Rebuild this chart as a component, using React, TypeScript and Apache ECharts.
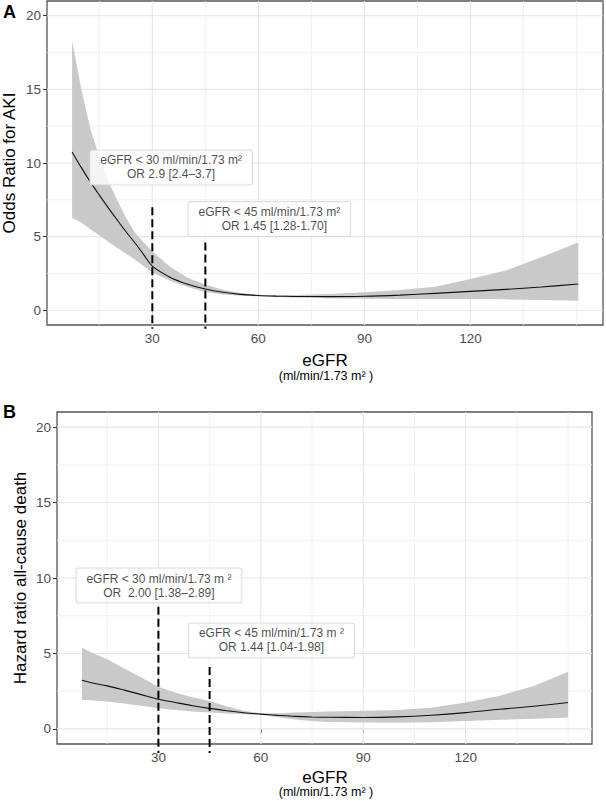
import React, { useEffect, useRef } from "react";
import * as echarts from "echarts";

// ---------- Panel A: Odds ratio for AKI ----------
const xA = [7.3, 10, 12.5, 15, 17.5, 20, 22.5, 25, 27.5, 30, 35, 40, 45, 50, 55, 60, 65, 70, 80, 90, 100, 110, 120, 130, 140, 150.5];
const orA = [10.75, 9.65, 8.7, 7.82, 6.97, 6.15, 5.35, 4.6, 3.8, 3.0, 2.25, 1.77, 1.44, 1.22, 1.08, 1.0, 0.96, 0.94, 0.93, 0.95, 1.03, 1.15, 1.28, 1.42, 1.58, 1.78];
const upperA = [18.3, 14.9, 12.3, 10.4, 8.8, 7.5, 6.3, 5.3, 4.6, 4.0, 2.95, 2.2, 1.74, 1.4, 1.17, 1.05, 1.02, 1.03, 1.1, 1.22, 1.38, 1.6, 2.12, 2.7, 3.6, 4.61];
const lowerA = [6.27, 5.95, 5.5, 5.1, 4.65, 4.25, 3.85, 3.45, 3.0, 2.57, 2.0, 1.58, 1.24, 1.07, 0.99, 0.95, 0.9, 0.86, 0.81, 0.78, 0.77, 0.77, 0.77, 0.74, 0.7, 0.65];

// ---------- Panel B: Hazard ratio all-cause death ----------
const xB = [7.6, 10, 15, 20, 25, 30, 35, 40, 45, 50, 55, 60, 65, 70, 75, 80, 90, 100, 110, 120, 130, 140, 150];
const hrB = [3.23, 3.08, 2.85, 2.57, 2.27, 1.97, 1.75, 1.54, 1.36, 1.2, 1.07, 0.98, 0.9, 0.83, 0.79, 0.77, 0.76, 0.8, 0.91, 1.08, 1.3, 1.5, 1.75];
const upperB = [5.4, 5.1, 4.62, 4.0, 3.4, 2.79, 2.4, 2.1, 1.85, 1.5, 1.2, 1.03, 1.04, 1.08, 1.12, 1.15, 1.2, 1.26, 1.4, 1.75, 2.2, 2.85, 3.78];
const lowerB = [1.92, 1.9, 1.81, 1.68, 1.53, 1.37, 1.25, 1.15, 1.08, 1.02, 0.97, 0.93, 0.78, 0.62, 0.52, 0.46, 0.42, 0.41, 0.44, 0.53, 0.6, 0.67, 0.75];

// ---------- Axes ----------
const xTickValues = [30, 60, 90, 120];
const yTickValues = [0, 5, 10, 15, 20];
const xGridValues = [15, 30, 45, 60, 75, 90, 105, 120, 135, 150];
const yGridValues = [0, 2.5, 5, 7.5, 10, 12.5, 15, 17.5, 20];

// ---------- Cut-off lines ----------
const cutoffs = [30, 45];
const cutoffTopsA = [7.0, 4.6];
const cutoffTopsB = [8.1, 4.1];

// ---------- Annotations ----------
const annotX_A = [35.3, 63.1];
const annotY_A = [9.7, 6.2];
const annotText_A = [
  "eGFR < 30 ml/min/1.73 m²\nOR 2.9 [2.4–3.7]",
  "eGFR < 45 ml/min/1.73 m²\n   OR 1.45 [1.28-1.70]",
];
const annotX_B = [30.15, 63.1];
const annotY_B = [9.5, 5.86];
const annotText_B = [
  "eGFR < 30 ml/min/1.73 m ²\nOR  2.00 [1.38–2.89]",
  "eGFR < 45 ml/min/1.73 m ²\nOR 1.44 [1.04-1.98]",
];

const FONT = "'Liberation Sans', Arial, Helvetica, sans-serif";

function ribbon(idx: number, xs: number[], up: number[], lo: number[]) {
  return {
    type: "custom",
    xAxisIndex: idx,
    yAxisIndex: idx,
    z: 2,
    silent: true,
    data: [[xs[0], up[0]]],
    renderItem: (_params: any, api: any) => {
      const pts: number[][] = [];
      for (let i = 0; i < xs.length; i++) pts.push(api.coord([xs[i], up[i]]));
      for (let i = xs.length - 1; i >= 0; i--) pts.push(api.coord([xs[i], lo[i]]));
      return { type: "polygon", shape: { points: pts }, style: { fill: "#c9c9c9" } };
    },
  };
}

function gridLines(idx: number) {
  return [
    {
      type: "custom",
      xAxisIndex: idx,
      yAxisIndex: idx,
      z: 1,
      silent: true,
      data: xGridValues.map((v) => [v, 10]),
      renderItem: (params: any, api: any) => {
        const cs = params.coordSys;
        const v = api.value(0);
        const x = api.coord([v, 0])[0];
        const major = xTickValues.indexOf(v) >= 0;
        return {
          type: "line",
          shape: { x1: x, y1: cs.y, x2: x, y2: cs.y + cs.height },
          style: { stroke: major ? "#e6e6e6" : "#eeeeee", lineWidth: major ? 1.1 : 0.8 },
        };
      },
    },
    {
      type: "custom",
      xAxisIndex: idx,
      yAxisIndex: idx,
      z: 1,
      silent: true,
      data: yGridValues.map((v) => [60, v]),
      renderItem: (params: any, api: any) => {
        const cs = params.coordSys;
        const v = api.value(1);
        const y = api.coord([60, v])[1];
        const major = yTickValues.indexOf(v) >= 0;
        return {
          type: "line",
          shape: { x1: cs.x, y1: y, x2: cs.x + cs.width, y2: y },
          style: { stroke: major ? "#e6e6e6" : "#eeeeee", lineWidth: major ? 1.1 : 0.8 },
        };
      },
    },
  ];
}

function curve(idx: number, xs: number[], ys: number[]) {
  return {
    type: "line",
    xAxisIndex: idx,
    yAxisIndex: idx,
    z: 3,
    silent: true,
    symbol: "none",
    smooth: 0.35,
    data: xs.map((x, i) => [x, ys[i]]),
    lineStyle: { color: "#111", width: 1.1 },
  };
}

function dashes(idx: number, tops: number[], bottom: number) {
  return cutoffs.map((c, i) => ({
    type: "line",
    xAxisIndex: idx,
    yAxisIndex: idx,
    z: 4,
    silent: true,
    clip: false,
    symbol: "none",
    data: [
      [c, tops[i]],
      [c, bottom],
    ],
    lineStyle: { color: "#000", width: 2, type: [8, 4] },
  }));
}

function annotations(idx: number, xs: number[], ys: number[], texts: string[]) {
  return {
    type: "scatter",
    xAxisIndex: idx,
    yAxisIndex: idx,
    z: 5,
    silent: true,
    symbolSize: 1,
    itemStyle: { color: "rgba(0,0,0,0)" },
    data: xs.map((x, i) => [x, ys[i]]),
    label: {
      show: true,
      position: "inside",
      formatter: (p: any) => texts[p.dataIndex],
      fontFamily: FONT,
      fontSize: 12,
      lineHeight: 14,
      color: "#1a1a1a",
      align: "center",
      backgroundColor: "#fff",
      borderColor: "#d6d6d6",
      borderWidth: 1,
      borderRadius: 2,
      padding: [3, 10, 3, 10],
    },
  };
}

function xAxis(idx: number, min: number, max: number) {
  return {
    type: "value",
    gridIndex: idx,
    min,
    max,
    axisLine: { show: false },
    splitLine: { show: false },
    axisTick: { show: true, customValues: xTickValues, length: 4, lineStyle: { color: "#333", width: 1 } },
    axisLabel: { customValues: xTickValues, color: "#4d4d4d", fontSize: 13.5, fontFamily: FONT, margin: 6 },
  };
}

function yAxis(idx: number) {
  return {
    type: "value",
    gridIndex: idx,
    min: -1,
    max: 21,
    axisLine: { show: false },
    splitLine: { show: false },
    axisTick: { show: true, customValues: yTickValues, length: 4, lineStyle: { color: "#333", width: 1 } },
    axisLabel: { customValues: yTickValues, color: "#4d4d4d", fontSize: 13.5, fontFamily: FONT, margin: 6 },
  };
}

export default function App() {
  const ref = useRef<HTMLDivElement>(null);
  useEffect(() => {
    document.body.style.margin = "0";
    const chart = echarts.init(ref.current!, null, { renderer: "svg" });
    const option: any = {
      animation: false,
      backgroundColor: "#fff",
      textStyle: { fontFamily: FONT },
      grid: [
        { left: 47, top: 1, width: 556, height: 324, show: true, borderColor: "#555", borderWidth: 1.3, backgroundColor: "#fff", containLabel: false, outerBoundsMode: "none" },
        { left: 57, top: 412, width: 535, height: 332, show: true, borderColor: "#555", borderWidth: 1.3, backgroundColor: "#fff", containLabel: false, outerBoundsMode: "none" },
      ],
      xAxis: [xAxis(0, 0.2, 157.5), xAxis(1, 0.3, 157.0)],
      yAxis: [yAxis(0), yAxis(1)],
      series: [
        ...gridLines(0),
        ...gridLines(1),
        ribbon(0, xA, upperA, lowerA),
        ribbon(1, xB, upperB, lowerB),
        curve(0, xA, orA),
        curve(1, xB, hrB),
        ...dashes(0, cutoffTopsA, -1.25),
        ...dashes(1, cutoffTopsB, -1.6),
        annotations(0, annotX_A, annotY_A, annotText_A),
        annotations(1, annotX_B, annotY_B, annotText_B),
      ],
      graphic: [
        { type: "text", left: 3, top: 3, style: { text: "A", fontSize: 18, fontWeight: "bold", fill: "#000", fontFamily: FONT } },
        { type: "text", left: 3, top: 403, style: { text: "B", fontSize: 18, fontWeight: "bold", fill: "#000", fontFamily: FONT } },
        { type: "text", x: 9.5, y: 163, rotation: Math.PI / 2, style: { text: "Odds Ratio for AKI", fontSize: 17, fill: "#000", align: "center", verticalAlign: "middle", fontFamily: FONT } },
        { type: "text", x: 20, y: 578, rotation: Math.PI / 2, style: { text: "Hazard ratio all-cause death", fontSize: 17, fill: "#000", align: "center", verticalAlign: "middle", fontFamily: FONT } },
        { type: "text", x: 325, y: 360, style: { text: "eGFR", fontSize: 17, fill: "#000", align: "center", verticalAlign: "middle", fontFamily: FONT } },
        { type: "text", x: 326, y: 376, style: { text: "(ml/min/1.73 m² )", fontSize: 12.5, fill: "#000", align: "center", verticalAlign: "middle", fontFamily: FONT } },
        { type: "text", x: 325, y: 777, style: { text: "eGFR", fontSize: 17, fill: "#000", align: "center", verticalAlign: "middle", fontFamily: FONT } },
        { type: "text", x: 326, y: 792, style: { text: "(ml/min/1.73 m² )", fontSize: 12.5, fill: "#000", align: "center", verticalAlign: "middle", fontFamily: FONT } },
      ],
    };
    chart.setOption(option);
    return () => chart.dispose();
  }, []);
  return <div ref={ref} style={{ position: "absolute", left: 0, top: 0, width: 606, height: 802 }} />;
}
